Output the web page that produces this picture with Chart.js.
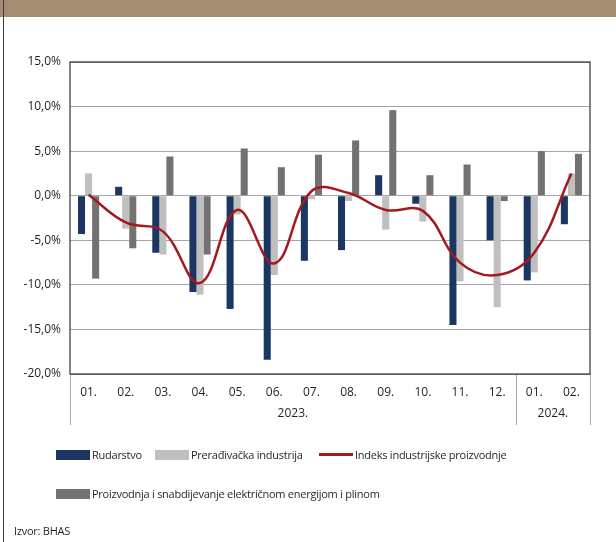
<!DOCTYPE html>
<html>
<head>
<meta charset="utf-8">
<script src="https://cdn.jsdelivr.net/npm/chart.js@4.4.1/dist/chart.umd.min.js"></script>
<style>
    html, body { margin: 0; padding: 0; background: #fff; }
    #wrap { position: relative; width: 616px; height: 542px; overflow: hidden; font-family: "Open Sans", sans-serif; color: #231f20; }
    #band { position: absolute; left: 0; top: 0; width: 616px; height: 17px; background: #a48c72; }
    #edge { position: absolute; left: 3px; top: 0; width: 1px; height: 542px; background: #3c3c3c; }
    #chart { position: absolute; left: 0; top: 0; }
    .lg { position: absolute; display: flex; align-items: center; font-size: 11px; letter-spacing: -0.25px; white-space: nowrap; }
    .sw { width: 34px; height: 10px; margin-right: 2px; }
    .ln { width: 34px; height: 2.5px; margin-right: 2px; }
    #source { position: absolute; left: 14px; top: 523px; font-size: 11px; letter-spacing: -0.25px; }
</style>
</head>
<body>
<div id="wrap">
    <div id="band"></div>
    <div id="edge"></div>
    <canvas id="chart" width="616" height="542"></canvas>
    <div id="legend"></div>
    <div id="source">Izvor: BHAS</div>
</div>
<script>
const months = ['01.', '02.', '03.', '04.', '05.', '06.', '07.', '08.', '09.', '10.', '11.', '12.', '01.', '02.'];
const yearLabels = ['2023.', '2024.'];
const yearSpans = [12, 2];

const rudarstvo = [-4.3, 1.0, -6.4, -10.8, -12.7, -18.4, -7.3, -6.1, 2.3, -0.9, -14.5, -5.0, -9.5, -3.2];
const preradjivacka = [2.5, -3.7, -6.6, -11.1, -2.1, -8.9, -0.4, -0.6, -3.8, -2.9, -9.6, -12.5, -8.6, 2.5];
const energija = [-9.3, -5.9, 4.4, -6.6, 5.3, 3.2, 4.6, 6.2, 9.6, 2.3, 3.5, -0.6, 5.0, 4.7];
const indeks = [0.1, -3.0, -4.0, -9.8, -1.6, -7.6, 0.5, 0.3, -1.6, -1.7, -7.5, -8.9, -6.4, 2.5];

const NAVY = '#1c3664';
const LIGHT = '#bfbfbf';
const DARK = '#767171';
const RED = '#a3191f';

// legend slots (left, top) in the order they appear
const legendSlots = [[56, 450], [155, 450], [319, 450], [56, 489]];

const yearAxisPlugin = {
    id: 'yearAxis',
    afterDraw(chart) {
        const ctx = chart.ctx;
        const x = chart.scales.x;
        const area = chart.chartArea;
        const half = (x.getPixelForValue(1) - x.getPixelForValue(0)) / 2;

        ctx.save();
        ctx.strokeStyle = '#a6a6a6';
        ctx.lineWidth = 1;
        ctx.fillStyle = '#231f20';
        ctx.font = '12px "Open Sans"';
        ctx.textAlign = 'center';
        ctx.textBaseline = 'middle';

        let start = 0;
        const edges = [x.getPixelForValue(0) - half];
        for (let i = 0; i < yearLabels.length; i++) {
            const end = start + yearSpans[i] - 1;
            const left = x.getPixelForValue(start) - half;
            const right = x.getPixelForValue(end) + half;
            edges.push(right);
            ctx.fillText(yearLabels[i], (left + right) / 2, area.bottom + 40);
            start += yearSpans[i];
        }
        edges.forEach(function (e) {
            const px = Math.round(e) + 0.5;
            ctx.beginPath();
            ctx.moveTo(px, area.bottom);
            ctx.lineTo(px, area.bottom + 51);
            ctx.stroke();
        });

        // dark frame round the plot
        ctx.strokeStyle = '#333333';
        ctx.lineWidth = 1.2;
        ctx.strokeRect(area.left, area.top, area.right - area.left, area.bottom - area.top);
        ctx.restore();
    }
};

const chart = new Chart(document.getElementById('chart'), {
    data: {
        labels: months,
        datasets: [
            {
                type: 'bar',
                label: 'Rudarstvo',
                data: rudarstvo,
                backgroundColor: NAVY,
                order: 1,
                categoryPercentage: 0.57,
                barPercentage: 1.0
            },
            {
                type: 'bar',
                label: 'Prerađivačka industrija',
                data: preradjivacka,
                backgroundColor: LIGHT,
                order: 1,
                categoryPercentage: 0.57,
                barPercentage: 1.0
            },
            {
                type: 'line',
                label: 'Indeks industrijske proizvodnje',
                data: indeks,
                borderColor: RED,
                backgroundColor: RED,
                borderWidth: 2.5,
                pointRadius: 0,
                tension: 0.4,
                order: 0
            },
            {
                type: 'bar',
                label: 'Proizvodnja i snabdijevanje električnom energijom i plinom',
                data: energija,
                backgroundColor: DARK,
                order: 1,
                categoryPercentage: 0.57,
                barPercentage: 1.0
            }
        ]
    },
    options: {
        responsive: false,
        animation: false,
        layout: {
            padding: { left: 0, right: 26, top: 62, bottom: 0 }
        },
        plugins: {
            legend: { display: false },
            tooltip: { enabled: false }
        },
        scales: {
            x: {
                grid: { display: false, drawTicks: false },
                border: { display: false },
                ticks: {
                    padding: 11,
                    color: '#231f20',
                    font: { family: 'Open Sans', size: 12 },
                    maxRotation: 0,
                    autoSkip: false
                },
                afterFit: function (scale) {
                    scale.height = 168;
                }
            },
            y: {
                min: -20,
                max: 15,
                grid: { color: '#a6a6a6', lineWidth: 1, drawTicks: false },
                border: { display: false },
                ticks: {
                    stepSize: 5,
                    padding: 9,
                    color: '#231f20',
                    font: { family: 'Open Sans', size: 12 },
                    callback: function (value) {
                        return value.toFixed(1).replace('.', ',') + '%';
                    }
                },
                afterFit: function (scale) {
                    scale.width = 70;
                }
            }
        }
    },
    plugins: [yearAxisPlugin]
});

// html legend built from the datasets
const legend = document.getElementById('legend');
chart.data.datasets.forEach(function (ds, i) {
    let item = document.createElement('div');
    item.className = 'lg';
    item.style.left = `${legendSlots[i][0]}px`;
    item.style.top = `${legendSlots[i][1] - 3}px`;

    let mark = document.createElement('div');
    mark.className = ds.type === 'line' ? 'ln' : 'sw';
    mark.style.background = ds.type === 'line' ? ds.borderColor : ds.backgroundColor;

    let text = document.createElement('span');
    text.textContent = ds.label;

    item.appendChild(mark);
    item.appendChild(text);
    legend.appendChild(item);
});
</script>
</body>
</html>
